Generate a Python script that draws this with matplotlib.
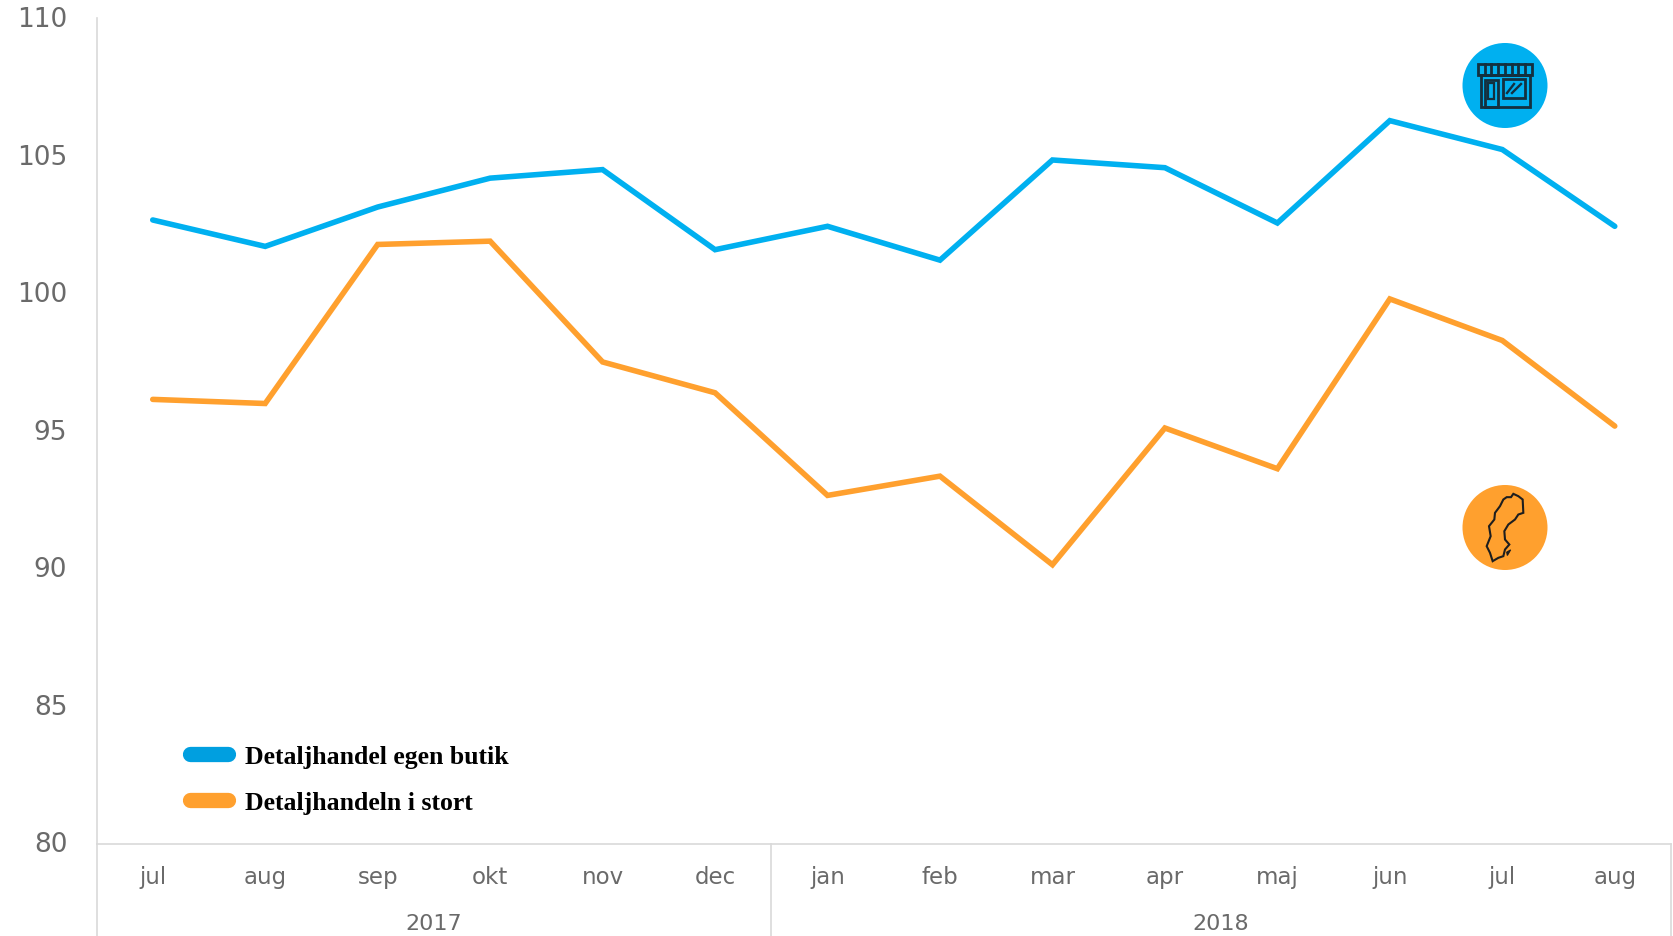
import matplotlib
matplotlib.use("Agg")
import matplotlib.pyplot as plt
from matplotlib.lines import Line2D
from matplotlib.patches import Circle, Rectangle, Polygon
from matplotlib.transforms import ScaledTranslation

W, H = 1673, 937
months = ["jul", "aug", "sep", "okt", "nov", "dec", "jan", "feb", "mar", "apr", "maj", "jun", "jul", "aug"]
blue_name = "Detaljhandel egen butik"
orange_name = "Detaljhandeln i stort"
blue_values = [102.66, 101.7, 103.13, 104.18, 104.49, 101.58, 102.43, 101.2, 104.84, 104.56, 102.55, 106.27, 105.22, 102.43]
orange_values = [96.14, 95.99, 101.77, 101.89, 97.5, 96.38, 92.65, 93.35, 90.13, 95.1, 93.62, 99.79, 98.28, 95.17]
yticks = [80, 85, 90, 95, 100, 105, 110]
years = ["2017", "2018"]
year_spans = [(-0.5, 5.5), (5.5, 13.5)]

GREY = "#6A6A6A"
SPINE = "#D9D9D9"
BLUE = "#00B0F0"
ORANGE = "#FFA02E"
FONT = "DejaVu Sans"

fig = plt.figure(figsize=(W / 100, H / 100), dpi=100, facecolor="white")
L, R, T, B = 96.5, 1671, 19, 844.5
ax = fig.add_axes([L / W, 1 - B / H, (R - L) / W, (B - T) / H])
x = range(len(months))
ax.plot(x, blue_values, color=BLUE, lw=4.0, solid_joinstyle="miter", solid_capstyle="round")
ax.plot(x, orange_values, color=ORANGE, lw=4.0, solid_joinstyle="miter", solid_capstyle="round")
ax.set_xlim(-0.5, 13.5)
ax.set_ylim(80, 110)
ax.set_yticks(yticks)
ax.set_xticks(list(x))
ax.set_xticklabels(months)
ax.tick_params(axis="both", length=0)
ax.tick_params(axis="y", pad=21, labelsize=19, labelcolor=GREY)
ax.tick_params(axis="x", pad=15.5, labelsize=16.5, labelcolor=GREY)
for lab in ax.get_xticklabels() + ax.get_yticklabels():
    lab.set_family(FONT)
shift_up = ScaledTranslation(0, 2 / 100, fig.dpi_scale_trans)
for lab in ax.get_yticklabels():
    lab.set_transform(lab.get_transform() + shift_up)
for s in ("top", "right"):
    ax.spines[s].set_visible(False)
for s in ("left", "bottom"):
    ax.spines[s].set_color(SPINE)
    ax.spines[s].set_linewidth(1.2)

# multi-level category axis
trans = ax.get_xaxis_transform()
drop = -(H - B) / (B - T)
for pos in (-0.5, 5.5, 13.5):
    ax.plot([pos, pos], [0, drop], color=SPINE, lw=1.2, transform=trans, clip_on=False)
for name, (a, b) in zip(years, year_spans):
    ax.text((a + b) / 2, -(924 - B) / (B - T), name, transform=trans, ha="center", va="center",
            fontsize=16, color=GREY, family=FONT)

handles = [Line2D([], [], color="#009FE0", lw=11, solid_capstyle="round"),
           Line2D([], [], color=ORANGE, lw=11, solid_capstyle="round")]
leg = ax.legend(handles, [blue_name, orange_name], loc="lower left",
                bbox_to_anchor=((190 - L) / (R - L), (B - 815) / (B - T)), frameon=False,
                prop={"family": "Liberation Serif", "weight": "bold", "size": 18.5},
                handlelength=1.48, handletextpad=0.66, labelspacing=0.9, borderpad=0, borderaxespad=0)
for t in leg.get_texts():
    t.set_color("black")

# decorative icons, drawn in pixel space
ov = fig.add_axes([0, 0, 1, 1], zorder=5)
ov.set_xlim(0, W)
ov.set_ylim(H, 0)
ov.axis("off")
ov.patch.set_alpha(0)
DARK = "#14303F"
ov.add_patch(Circle((1505, 86.5), 42.5, color=BLUE, lw=0))
ov.add_patch(Circle((1505, 528.5), 42.5, color=ORANGE, lw=0))

def box(x0, y0, x1, y1, lw=2.0):
    ov.add_patch(Rectangle((x0, y0), x1 - x0, y1 - y0, fill=False, ec=DARK, lw=lw))

box(1478, 65, 1532, 76)
for i in range(1, 8):
    xx = 1478 + i * 54 / 8
    ov.plot([xx, xx], [65, 76], color=DARK, lw=2.0)
box(1481, 76, 1530, 108)
box(1485, 81, 1498, 108)
box(1488, 84, 1494, 100, 1.6)
box(1503, 80, 1525, 99)
ov.plot([1507, 1514], [94, 85], color=DARK, lw=1.7)
ov.plot([1512, 1521], [94, 85], color=DARK, lw=1.7)

sweden = [(190, 58), (205, 65), (218, 75), (220, 115), (205, 120), (195, 135), (175, 150), (163, 170),
          (165, 195), (178, 210), (165, 225), (160, 245), (145, 250), (128, 260), (120, 235), (110, 215),
          (122, 185), (117, 155), (133, 135), (135, 115), (150, 95), (160, 75), (170, 68), (183, 68)]
ov.add_patch(Polygon([(1450 + a / 3, 475.5 + b / 3) for a, b in sweden], fill=False, ec="#1E1E1E", lw=1.5))
island = [(170, 233), (182, 226), (172, 243)]
ov.add_patch(Polygon([(1450 + a / 3, 475.5 + b / 3) for a, b in island], fc="#1E1E1E", ec="#1E1E1E", lw=0.8))

fig.savefig("out.png", dpi=100, facecolor="white")
